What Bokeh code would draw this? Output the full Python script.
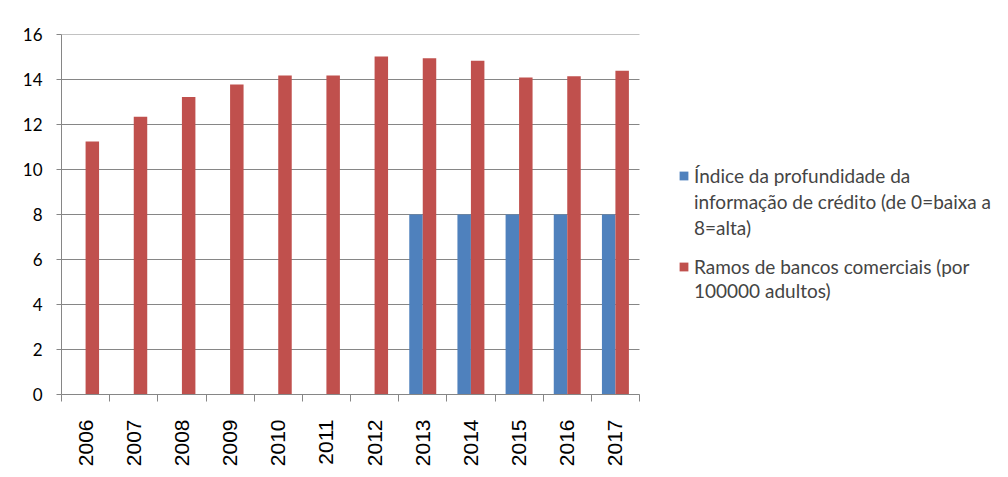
import math
import numpy as np
from bokeh.plotting import figure
from bokeh.models import (Range1d, LinearAxis, FixedTicker, Legend,
                          LegendItem, ColumnDataSource)
from bokeh.transform import dodge
from bokeh.embed import file_html
from bokeh.resources import INLINE

years = ["2006", "2007", "2008", "2009", "2010", "2011", "2012",
         "2013", "2014", "2015", "2016", "2017"]
credit_depth = [np.nan, np.nan, np.nan, np.nan, np.nan, np.nan, np.nan,
                8, 8, 8, 8, 8]
bank_branches = [11.24, 12.34, 13.22, 13.78, 14.18, 14.18, 15.02,
                 14.95, 14.83, 14.09, 14.15, 14.39]
y_ticks = [0, 2, 4, 6, 8, 10, 12, 14, 16]
label_credit_lines = ["Índice da profundidade da",
                      "informação de crédito (de 0=baixa a",
                      "8=alta)"]
label_branches_lines = ["Ramos de bancos comerciais (por",
                        "100000 adultos)"]

BLUE = "#4F81BD"
RED = "#C0504D"
GRID = "#868686"

n = len(years)
slot_centers = [i + 0.5 for i in range(n)]
slot_edges = list(range(n + 1))

# layout: plot area starts 61px in; bar area 578px, rest holds the legend
FIG_W, FIG_H, LEFT, TOP, BAR_W = 1006, 476, 61, 34, 578
x_end = n * (FIG_W - LEFT) / BAR_W

src = ColumnDataSource(dict(year=years, pos=slot_centers,
                            credit=np.array(credit_depth, dtype=float),
                            branches=np.array(bank_branches, dtype=float)))
grid_src = ColumnDataSource(dict(y=y_ticks, x0=[0] * len(y_ticks),
                                 x1=[n] * len(y_ticks)))

p = figure(width=FIG_W, height=FIG_H, x_range=Range1d(0, x_end),
           y_range=Range1d(0, 16), output_backend="svg", toolbar_location=None,
           min_border_left=LEFT, min_border_top=TOP, min_border_right=0,
           min_border_bottom=82, x_axis_location=None)
p.outline_line_color = None
p.background_fill_color = "white"
p.border_fill_color = "white"
p.xgrid.grid_line_color = None
p.ygrid.grid_line_color = None

# horizontal gridlines limited to the bar area
p.segment(x0="x0", x1="x1", y0="y", y1="y", source=grid_src,
          line_color=GRID, line_width=1)

r1 = p.vbar(x=dodge("pos", -0.14), top="credit", width=0.28,
            source=src, fill_color=BLUE, line_color=None)
r2 = p.vbar(x=dodge("pos", 0.14), top="branches", width=0.28,
            source=src, fill_color=RED, line_color=None)
# invisible renderer used only for continuation lines of the legend text
r_blank = p.vbar(x=[], top=[], width=0.28, fill_alpha=0, line_alpha=0)

# y axis
yax = p.yaxis[0]
yax.ticker = FixedTicker(ticks=y_ticks)
yax.axis_line_color = GRID
yax.major_tick_line_color = GRID
yax.major_tick_out = 5
yax.major_tick_in = 0
yax.minor_tick_line_color = None
yax.major_label_standoff = 14
yax.major_label_text_font = "Lato"
yax.major_label_text_font_size = "17px"
yax.major_label_text_color = "#000000"

# x axis: boundary tick marks
tick_ax = LinearAxis(ticker=FixedTicker(ticks=slot_edges), bounds=(0, n),
                     major_tick_out=7, major_tick_in=0,
                     major_tick_line_color=GRID, axis_line_color=GRID,
                     minor_tick_line_color=None,
                     major_label_text_font_size="1px",
                     major_label_text_color=None, major_label_standoff=0)
p.add_layout(tick_ax, "below")

# x axis: year labels at slot centres
cat_ax = LinearAxis(ticker=FixedTicker(ticks=slot_centers),
                    major_label_overrides={c: y for c, y in zip(slot_centers, years)},
                    axis_line_color=None, major_tick_line_color=None,
                    minor_tick_line_color=None,
                    major_label_orientation=math.pi / 2,
                    major_label_standoff=12,
                    major_label_text_font="Liberation Sans",
                    major_label_text_font_size="21px",
                    major_label_text_color="#000000")
p.add_layout(cat_ax, "below")


def make_legend(lines, renderer, loc, row_h):
    items = [LegendItem(label=lines[0], renderers=[renderer])]
    items += [LegendItem(label=t, renderers=[r_blank]) for t in lines[1:]]
    return Legend(items=items, location=loc, glyph_width=11, glyph_height=11,
                  label_text_font="Lato", label_text_font_size="19px",
                  label_height=row_h, label_standoff=5,
                  spacing=0, padding=0, margin=0,
                  border_line_color=None, background_fill_alpha=0)


p.add_layout(make_legend(label_credit_lines, r1, (BAR_W + 39, 154), 26), "center")
p.add_layout(make_legend(label_branches_lines, r2, (BAR_W + 39, 92), 24), "center")

open("out.html", "w").write(file_html(p, INLINE))
